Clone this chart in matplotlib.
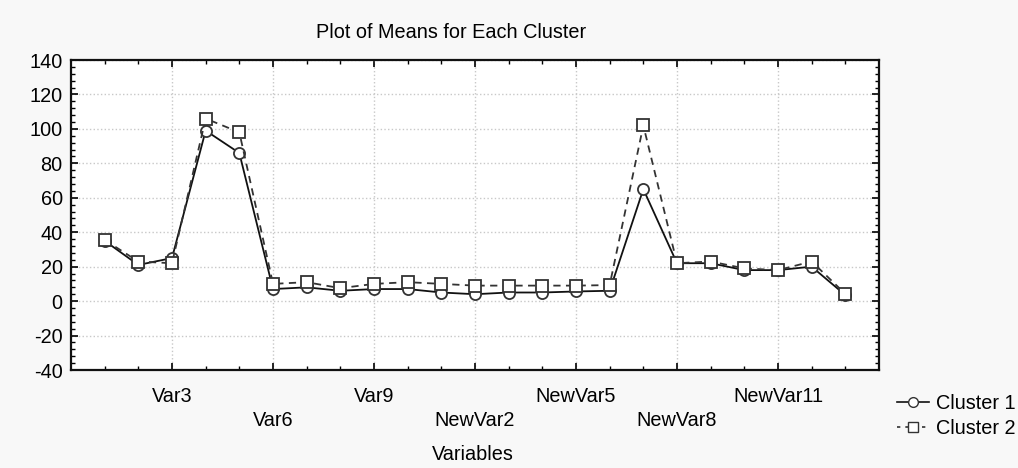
import matplotlib
matplotlib.use("Agg")
import matplotlib.pyplot as plt
from matplotlib.ticker import MultipleLocator, FixedLocator
from matplotlib.lines import Line2D

plt.rcParams['font.family'] = ['Liberation Sans', 'DejaVu Sans']
plt.rcParams['axes.unicode_minus'] = False

variables = ([f"Var{i}" for i in range(1, 11)] +
             [f"NewVar{i}" for i in range(1, 14)])
cluster1 = [35, 21, 25, 99, 86, 7, 8, 6, 7, 7, 5, 4, 5, 5, 5.6, 6,
            65, 22, 22, 18, 18, 20, 3.5]
cluster2 = [35.5, 23, 22, 106, 98, 10, 11, 7.5, 10, 11, 10, 9, 9, 9, 9, 9.3,
            102, 22, 23, 19, 18, 23, 4.2]
labeled_idx = [2, 5, 8, 11, 14, 17, 20]

FS = 14.3
fig = plt.figure(figsize=(10.18, 4.68), dpi=100, facecolor='#f8f8f8')
ax = fig.add_axes([71/1018, 1-370/468, (879-71)/1018, (370-60)/468])
ax.set_facecolor('white')

x = list(range(len(variables)))
ax.plot(x, cluster1, '-', color='#111111', lw=1.3, marker='o', ms=8,
        mfc='white', mec='#333333', mew=1.3, zorder=3, label='Cluster 1')
ax.plot(x, cluster2, '--', color='#333333', lw=1.3, marker='s', ms=8,
        mfc='white', mec='#333333', mew=1.3, zorder=4, dashes=(4, 3),
        label='Cluster 2')

ax.set_xlim(-1, len(variables))
ax.set_ylim(-40, 140)
ax.yaxis.set_major_locator(MultipleLocator(20))
ax.yaxis.set_minor_locator(MultipleLocator(4))
ax.xaxis.set_major_locator(FixedLocator(labeled_idx))
ax.xaxis.set_minor_locator(FixedLocator(x))
labels = []
for k, i in enumerate(labeled_idx):
    labels.append(variables[i] if k % 2 == 0 else "\n" + variables[i])
ax.set_xticklabels(labels, fontsize=FS)
for t in ax.get_xticklabels():
    t.set_linespacing(1.35)
ax.tick_params(axis='y', labelsize=FS)
ax.tick_params(which='both', direction='in', top=True, right=True, color='black')
ax.tick_params(which='major', length=5, width=1.2)
ax.tick_params(which='minor', length=3, width=1)
ax.tick_params(axis='x', which='major', pad=12)
ax.tick_params(axis='y', which='major', pad=6)
ax.grid(True, which='major', linestyle=':', color='#c8c8c8', lw=1)
ax.set_axisbelow(True)
for s in ax.spines.values():
    s.set_linewidth(1.6)
    s.set_color('#111111')

fig.text(451/1018, 1-33/468, "Plot of Means for Each Cluster", ha='center',
         va='center', fontsize=FS)
fig.text(473/1018, 1-455/468, "Variables", ha='center', va='center', fontsize=FS)

handles = [Line2D([], [], color='#111111', lw=1.2, marker='o', ms=7, mfc='white', mec='#333333'),
           Line2D([], [], color='#333333', lw=1.2, ls='--', dashes=(2, 3), marker='s', ms=7,
                  mfc='white', mec='#333333')]
fig.legend(handles, ['Cluster 1', 'Cluster 2'], loc='center left',
           bbox_to_anchor=(897/1018, 1-416/468), frameon=False, fontsize=FS,
           handlelength=1.6, handletextpad=0.35, labelspacing=0.3, borderpad=0,
           borderaxespad=0)

fig.savefig("out.png", dpi=100, facecolor=fig.get_facecolor())
